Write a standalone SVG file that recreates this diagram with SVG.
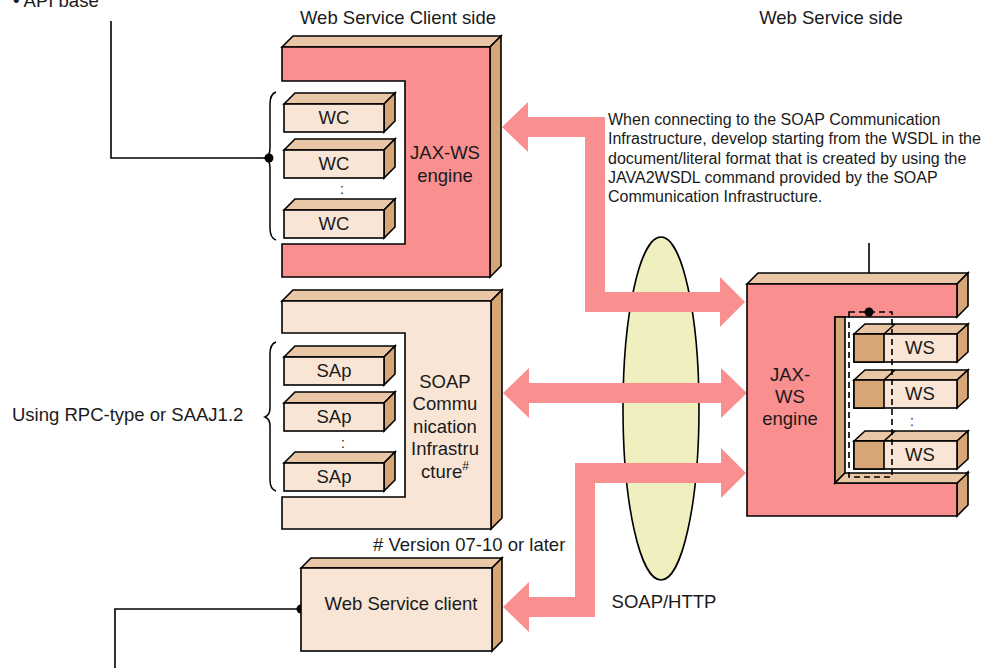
<svg xmlns="http://www.w3.org/2000/svg" width="984" height="668" viewBox="0 0 984 668">
  <style>
    .pk { fill: #F98F8F; stroke: #000; stroke-width: 1.6; stroke-linejoin: miter; }
    .lt { fill: #F8E5D5; stroke: #000; stroke-width: 1.6; stroke-linejoin: miter; }
    .tp { fill: #E9C6A6; stroke: #000; stroke-width: 1.6; stroke-linejoin: miter; }
    .sd { fill: #D6A676; stroke: #000; stroke-width: 1.6; stroke-linejoin: miter; }
    .ln { fill: none; stroke: #000; stroke-width: 1.6; }
    .br { fill: none; stroke: #000; stroke-width: 1.5; }
    .dot { fill: #000; }
    .arw { fill: #F98F8F; stroke: none; }
    .t { font-family: "Liberation Sans", Arial, sans-serif; font-size: 18.5px; fill: #1a1a1a; }
    .c { text-anchor: middle; }
    .p { font-family: "Liberation Sans", Arial, sans-serif; font-size: 16px; fill: #1a1a1a; }
    .col { font-family: "Liberation Sans", Arial, sans-serif; font-size: 14px; fill: #1a1a1a; text-anchor: middle; }
  </style>
  <defs>
    <!-- small 3D block: front 100x28, depth 11 -->
    <g id="block">
      <path class="tp" d="M0,0 L11,-11 H111 L100,0 Z"/>
      <path class="sd" d="M100,0 L111,-11 V17 L100,28 Z"/>
      <rect class="lt" x="0" y="0" width="100" height="28"/>
    </g>
    <!-- server-side block with darker left part -->
    <g id="wsblock">
      <path class="tp" d="M0,0 L11,-10 H114 L103,0 Z"/>
      <path class="ln" d="M30,0 L41,-10"/>
      <path class="sd" d="M103,0 L114,-10 V18 L103,28 Z"/>
      <rect class="lt" x="0" y="0" width="103" height="28"/>
      <rect class="sd" x="0" y="0" width="30" height="28"/>
    </g>
  </defs>

  <!-- top labels -->
  <g id="api-base-label">
    <text class="t" x="13" y="7">• API base</text>
  </g>
  <g id="client-side-label">
    <text class="t c" x="398" y="23.5">Web Service Client side</text>
  </g>
  <g id="service-side-label">
    <text class="t c" x="831" y="23.5">Web Service side</text>
  </g>

  <!-- SOAP/HTTP channel -->
  <g id="soap-http">
    <ellipse cx="661" cy="408.5" rx="38" ry="171.5" fill="#EFEFBF" stroke="#000" stroke-width="1.6"/>
    <text class="t c" x="664" y="608">SOAP/HTTP</text>
  </g>

  <!-- connectors -->
  <g id="connectors">
    <path class="arw" d="M502,127 L528,102 L528,117 L605,117 L605,292 L720,292 L720,277 L745,302 L720,327 L720,312 L585,312 L585,137 L528,137 L528,152 Z"/>
    <path class="arw" d="M503,393 L529,368 L529,383 L721,383 L721,368 L747,393 L721,418 L721,403 L529,403 L529,418 Z"/>
    <path class="arw" d="M746,473 L721,448 L721,463 L575,463 L575,597 L529,597 L529,582 L503,607 L529,632 L529,617 L595,617 L595,483 L721,483 L721,498 Z"/>
    <path class="ln" d="M111,21 V158 H269"/>
    <circle class="dot" cx="269" cy="158" r="4.5"/>
    <path class="ln" d="M301,609 H115 V668"/>
    <circle class="dot" cx="301" cy="609" r="4.5"/>
    <path class="ln" d="M869,243 V312"/>
  </g>

  <!-- client-side JAX-WS engine -->
  <g id="client-jaxws">
    <path class="tp" d="M282,47 L293,36 H501 L490,47 Z"/>
    <path class="sd" d="M490,47 L501,36 V266 L490,277 Z"/>
    <path class="pk" d="M282,47 H490 V277 H282 V244 H405 V81 H282 Z"/>
    <text class="t c" x="445" y="159">JAX-WS</text>
    <text class="t c" x="445" y="181.5">engine</text>
    <path class="br" d="M276,92 Q270,94 270,104 V148 Q270,156 265,158 Q270,160 270,168 V228 Q270,238 276,240"/>
  </g>
  <g id="wc1"><use href="#block" x="284" y="104"/><text class="t c" x="334" y="123.5">WC</text></g>
  <g id="wc2"><use href="#block" x="284" y="150"/><text class="t c" x="334" y="169.5">WC</text></g>
  <text class="col" x="342" y="194">:</text>
  <g id="wc3"><use href="#block" x="284" y="210"/><text class="t c" x="334" y="229.5">WC</text></g>

  <!-- SOAP Communication Infrastructure -->
  <g id="soap-infra">
    <path class="tp" d="M282,301 L293,290 H502 L491,301 Z"/>
    <path class="sd" d="M491,301 L502,290 V518 L491,529 Z"/>
    <path class="lt" d="M282,301 H491 V529 H282 V497 H405 V333 H282 Z"/>
    <text class="t c" x="445" y="387.5">SOAP</text>
    <text class="t c" x="445" y="410">Commu</text>
    <text class="t c" x="445" y="432.5">nication</text>
    <text class="t c" x="445" y="455">Infrastru</text>
    <text class="t c" x="445" y="477.5">cture<tspan font-size="12" dy="-8">#</tspan></text>
    <path class="br" d="M276,342 Q270,344 270,354 V408 Q270,415 265,417 Q270,419 270,426 V480 Q270,489 276,491"/>
  </g>
  <g id="sap1"><use href="#block" x="284" y="357"/><text class="t c" x="334" y="376.5">SAp</text></g>
  <g id="sap2"><use href="#block" x="284" y="403"/><text class="t c" x="334" y="422.5">SAp</text></g>
  <text class="col" x="343" y="448">:</text>
  <g id="sap3"><use href="#block" x="284" y="463"/><text class="t c" x="334" y="482.5">SAp</text></g>
  <g id="rpc-label">
    <text class="t" x="12" y="421">Using RPC-type or SAAJ1.2</text>
  </g>

  <!-- note -->
  <g id="version-note">
    <text class="t" x="373" y="551"># Version 07-10 or later</text>
  </g>

  <!-- Web Service client -->
  <g id="ws-client">
    <path class="tp" d="M301,568 L311,558 H502 L492,568 Z"/>
    <path class="sd" d="M492,568 L502,558 V641 L492,651 Z"/>
    <rect class="lt" x="301" y="568" width="191" height="83"/>
    <text class="t c" x="401" y="610">Web Service client</text>
  </g>

  <!-- WSDL note -->
  <g id="wsdl-note">
    <text class="p" x="608" y="125">When connecting to the SOAP Communication</text>
    <text class="p" x="608" y="144.3">Infrastructure, develop starting from the WSDL in the</text>
    <text class="p" x="608" y="163.6">document/literal format that is created by using the</text>
    <text class="p" x="608" y="182.9">JAVA2WSDL command provided by the SOAP</text>
    <text class="p" x="608" y="202.2">Communication Infrastructure.</text>
  </g>

  <!-- server-side JAX-WS engine -->
  <g id="server-jaxws">
    <path class="tp" d="M747,284 L758,273 H968 L957,284 Z"/>
    <path class="sd" d="M957,284 L968,273 V306 L957,317 Z"/>
    <path class="sd" d="M957,483 L968,472 V505 L957,516 Z"/>
    <path class="pk" d="M747,284 H957 V317 H835 V483 H957 V516 H747 Z"/>
    <path class="sd" d="M835,317 H845 V473 L835,483 Z"/>
    <path class="tp" d="M835,483 L845,473 H968 L957,483 Z"/>
    <text class="t c" x="790" y="380.5">JAX-</text>
    <text class="t c" x="790" y="402.5">WS</text>
    <text class="t c" x="790" y="425">engine</text>
  </g>
  <g id="ws1"><use href="#wsblock" x="854" y="334"/><text class="t c" x="920" y="354">WS</text></g>
  <g id="ws2"><use href="#wsblock" x="854" y="380"/><text class="t c" x="920" y="400">WS</text></g>
  <text class="col" x="912" y="426">:</text>
  <g id="ws3"><use href="#wsblock" x="854" y="441"/><text class="t c" x="920" y="461">WS</text></g>
  <g id="ws-group">
    <rect x="849" y="312" width="43" height="165" fill="none" stroke="#000" stroke-width="1.6" stroke-dasharray="6,4"/>
    <circle class="dot" cx="869" cy="312" r="4.5"/>
  </g>
</svg>
